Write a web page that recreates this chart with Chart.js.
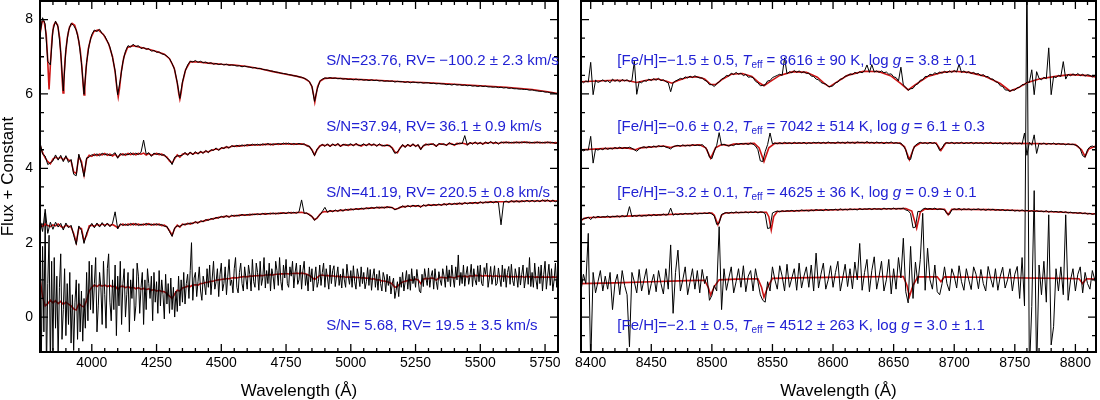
<!DOCTYPE html>
<html>
<head>
<meta charset="utf-8">
<script src="https://cdn.jsdelivr.net/npm/chart.js@4.4.0/dist/chart.umd.min.js"></script>
<style>
  body { margin: 0; background: #fff; }
  #wrap { position: relative; width: 1100px; height: 400px; }
  canvas { position: absolute; top: 0; }
  #left { left: 0; }
  #right { left: 560px; }
</style>
</head>
<body>
<div id="wrap">
  <canvas id="left" width="560" height="400"></canvas>
  <canvas id="right" width="540" height="400"></canvas>
</div>
<script>
// ---------------------- DATA ----------------------
// axis ticks
const leftXTicks = [4000, 4250, 4500, 4750, 5000, 5250, 5500, 5750];
const rightXTicks = [8400, 8450, 8500, 8550, 8600, 8650, 8700, 8750, 8800];
const yTicks = [0, 2, 4, 6, 8];

// blue labels
const leftNotes = [
  "S/N=23.76, RV= \u2212100.2 \u00b1 2.3 km/s",
  "S/N=37.94, RV= 36.1 \u00b1 0.9 km/s",
  "S/N=41.19, RV= 220.5 \u00b1 0.8 km/s",
  "S/N= 5.68, RV= 19.5 \u00b1 3.5 km/s",
];
const feh = ["\u22121.5 \u00b1 0.5", "\u22120.6 \u00b1 0.2", "\u22123.2 \u00b1 0.1", "\u22122.1 \u00b1 0.5"];
const teff = ["8616 \u00b1 90", "7042 \u00b1 514", "4625 \u00b1 36", "4512 \u00b1 263"];
const logg = ["3.8 \u00b1 0.1", "6.1 \u00b1 0.3", "0.9 \u00b1 0.1", "3.0 \u00b1 1.1"];

// left panel, observed spectra sampled every 10 A from 3800 A (s4 every 5 A)
const s1Flux = [
  7.62, 8.05, 7.88, 6.88, 6.78, 7.72, 7.96, 7.8, 7.12, 6.08,
  7.2, 7.7, 7.9, 7.84, 7.72, 7.42, 6.84, 5.99, 6.85, 7.32,
  7.6, 7.72, 7.68, 7.74, 7.62, 7.56, 7.42, 7.26, 6.98, 6.62,
  5.98, 6.38, 6.86, 7.15, 7.3, 7.26, 7.34, 7.27, 7.3, 7.22,
  7.25, 7.2, 7.22, 7.15, 7.17, 7.12, 7.13, 7.08, 7.06, 7.02,
  6.95, 6.82, 6.65, 6.3, 5.88, 6.32, 6.6, 6.78, 6.88, 6.86,
  6.9, 6.85, 6.88, 6.84, 6.86, 6.82, 6.84, 6.8, 6.82, 6.79,
  6.81, 6.78, 6.8, 6.77, 6.78, 6.77, 6.75, 6.76, 6.73, 6.75,
  6.73, 6.72, 6.7, 6.71, 6.68, 6.69, 6.66, 6.65, 6.64, 6.62,
  6.61, 6.59, 6.58, 6.56, 6.55, 6.54, 6.52, 6.51, 6.49, 6.48,
  6.46, 6.45, 6.42, 6.39, 6.33, 6.2, 5.8, 6.12, 6.33, 6.4,
  6.43, 6.42, 6.44, 6.42, 6.43, 6.41, 6.42, 6.4, 6.41, 6.39,
  6.4, 6.38, 6.4, 6.38, 6.39, 6.37, 6.38, 6.36, 6.38, 6.36,
  6.37, 6.35, 6.36, 6.34, 6.35, 6.34, 6.35, 6.32, 6.34, 6.33,
  6.33, 6.31, 6.33, 6.3, 6.32, 6.31, 6.3, 6.31, 6.29, 6.3,
  6.3, 6.28, 6.29, 6.27, 6.28, 6.27, 6.27, 6.25, 6.26, 6.24,
  6.26, 6.24, 6.25, 6.23, 6.24, 6.22, 6.23, 6.21, 6.22, 6.2,
  6.22, 6.2, 6.21, 6.19, 6.19, 6.18, 6.19, 6.17, 6.18, 6.16,
  6.17, 6.15, 6.16, 6.14, 6.14, 6.13, 6.13, 6.12, 6.12, 6.1,
  6.11, 6.09, 6.08, 6.07, 6.07, 6.05, 6.05, 6.03, 6.03, 6.01,
  6.0,
];
const s1ModelWave = [
  3800, 3808, 3816, 3824, 3829, 3835, 3841, 3847, 3853, 3860, 3868, 3876, 3882, 3886, 3889,
  3892, 3897, 3905, 3914, 3924, 3934, 3945, 3955, 3962, 3967, 3970, 3973, 3978, 3986, 3996,
  4008, 4025, 4045, 4065, 4080, 4090, 4097, 4102, 4107, 4114, 4124, 4138, 4160, 4190, 4220,
  4250, 4280, 4300, 4318, 4330, 4336, 4340, 4344, 4350, 4362, 4380, 4410, 4450, 4500, 4550,
  4600, 4650, 4700, 4750, 4790, 4820, 4840, 4850, 4856, 4861, 4866, 4872, 4882, 4900, 4930,
  5000, 5100, 5200, 5300, 5400, 5500, 5600, 5700, 5760, 5800,
];
const s1ModelFlux = [
  7.6, 7.95, 7.95, 7.6, 7.0, 6.12, 6.9, 7.55, 7.85, 7.93, 7.85, 7.5, 6.9, 6.35, 6.03,
  6.35, 6.95, 7.5, 7.8, 7.9, 7.85, 7.6, 7.2, 6.7, 6.2, 5.97, 6.2, 6.7, 7.2, 7.5,
  7.68, 7.72, 7.6, 7.35, 7.0, 6.6, 6.15, 5.92, 6.15, 6.6, 7.0, 7.25, 7.3, 7.25, 7.2,
  7.14, 7.07, 6.95, 6.7, 6.3, 6.0, 5.86, 6.0, 6.3, 6.65, 6.87, 6.86, 6.83, 6.8, 6.78,
  6.74, 6.68, 6.6, 6.53, 6.48, 6.42, 6.33, 6.2, 5.98, 5.78, 5.98, 6.2, 6.35, 6.42, 6.43,
  6.4, 6.37, 6.33, 6.3, 6.26, 6.22, 6.18, 6.12, 6.06, 6.01,
];

const s2Flux = [
  4.7, 4.38, 4.33, 4.1, 4.15, 4.2, 4.36, 4.22, 4.35, 4.18,
  4.34, 4.16, 4.24, 3.84, 3.8, 4.38, 4.12, 3.78, 4.28, 4.3,
  4.37, 4.34, 4.39, 4.33, 4.41, 4.36, 4.39, 4.34, 4.37, 4.42,
  4.27, 4.4, 4.35, 4.39, 4.36, 4.42, 4.36, 4.41, 4.37, 4.43,
  4.76, 4.38, 4.42, 4.32, 4.41, 4.37, 4.4, 4.35, 4.37, 4.27,
  4.23, 4.1, 4.3, 4.33, 4.34, 4.35, 4.43, 4.35, 4.44, 4.36,
  4.45, 4.38, 4.46, 4.4, 4.48, 4.42, 4.5, 4.48, 4.55, 4.48,
  4.56, 4.53, 4.59, 4.54, 4.61, 4.58, 4.62, 4.59, 4.63, 4.6,
  4.64, 4.61, 4.65, 4.62, 4.65, 4.62, 4.66, 4.63, 4.67, 4.63,
  4.66, 4.64, 4.67, 4.64, 4.68, 4.65, 4.68, 4.64, 4.67, 4.64,
  4.67, 4.64, 4.66, 4.6, 4.6, 4.48, 4.34, 4.52, 4.58, 4.65,
  4.59, 4.66, 4.58, 4.66, 4.6, 4.67, 4.58, 4.65, 4.62, 4.63,
  4.66, 4.6, 4.67, 4.61, 4.62, 4.66, 4.6, 4.67, 4.61, 4.66,
  4.59, 4.66, 4.6, 4.62, 4.61, 4.62, 4.53, 4.4, 4.44, 4.53,
  4.64, 4.56, 4.65, 4.58, 4.66, 4.58, 4.64, 4.5, 4.62, 4.63,
  4.65, 4.64, 4.66, 4.58, 4.67, 4.64, 4.66, 4.61, 4.69, 4.64,
  4.64, 4.65, 4.68, 4.66, 4.88, 4.62, 4.7, 4.65, 4.71, 4.65,
  4.7, 4.64, 4.71, 4.66, 4.72, 4.66, 4.71, 4.65, 4.71, 4.68,
  4.71, 4.68, 4.7, 4.68, 4.71, 4.68, 4.71, 4.69, 4.71, 4.68,
  4.7, 4.68, 4.71, 4.68, 4.7, 4.68, 4.71, 4.68, 4.7, 4.67,
  4.69,
];
const s2Model = [
  4.62, 4.42, 4.28, 4.18, 4.12, 4.25, 4.3, 4.26, 4.3, 4.22,
  4.3, 4.22, 4.2, 3.9, 3.86, 4.32, 4.18, 3.82, 4.25, 4.35,
  4.32, 4.38, 4.34, 4.38, 4.36, 4.4, 4.35, 4.38, 4.33, 4.38,
  4.3, 4.36, 4.39, 4.35, 4.4, 4.37, 4.4, 4.36, 4.4, 4.38,
  4.41, 4.36, 4.4, 4.35, 4.38, 4.4, 4.37, 4.38, 4.34, 4.3,
  4.2, 4.14, 4.26, 4.36, 4.3, 4.38, 4.4, 4.37, 4.42, 4.38,
  4.42, 4.4, 4.44, 4.42, 4.46, 4.44, 4.48, 4.5, 4.52, 4.5,
  4.54, 4.55, 4.57, 4.56, 4.59, 4.6, 4.59, 4.61, 4.6, 4.62,
  4.61, 4.63, 4.62, 4.64, 4.62, 4.64, 4.63, 4.65, 4.64, 4.65,
  4.63, 4.66, 4.64, 4.66, 4.65, 4.67, 4.65, 4.66, 4.64, 4.66,
  4.65, 4.66, 4.64, 4.62, 4.58, 4.5, 4.36, 4.5, 4.6, 4.63,
  4.61, 4.64, 4.6, 4.64, 4.62, 4.65, 4.6, 4.63, 4.64, 4.61,
  4.64, 4.62, 4.65, 4.63, 4.6, 4.64, 4.62, 4.65, 4.63, 4.64,
  4.61, 4.64, 4.62, 4.6, 4.63, 4.6, 4.55, 4.44, 4.42, 4.55,
  4.62, 4.58, 4.63, 4.6, 4.64, 4.6, 4.62, 4.52, 4.6, 4.65,
  4.63, 4.66, 4.64, 4.6, 4.65, 4.66, 4.64, 4.63, 4.67, 4.66,
  4.62, 4.67, 4.66, 4.68, 4.66, 4.64, 4.68, 4.67, 4.69, 4.67,
  4.68, 4.66, 4.69, 4.68, 4.7, 4.68, 4.69, 4.67, 4.69, 4.7,
  4.69, 4.7, 4.68, 4.7, 4.69, 4.7, 4.69, 4.71, 4.69, 4.7,
  4.68, 4.7, 4.69, 4.7, 4.68, 4.7, 4.69, 4.7, 4.68, 4.69,
  4.68,
];

const s3Flux = [
  2.62, 2.3, 2.9, 2.25, 2.55, 2.36, 2.55, 2.42, 2.52, 2.34,
  2.53, 2.4, 2.47, 2.2, 1.95, 2.45, 2.33, 1.98, 2.26, 2.4,
  2.52, 2.4, 2.53, 2.42, 2.54, 2.43, 2.53, 2.43, 2.52, 2.83,
  2.37, 2.51, 2.46, 2.5, 2.46, 2.52, 2.47, 2.52, 2.46, 2.5,
  2.47, 2.52, 2.48, 2.5, 2.47, 2.51, 2.47, 2.49, 2.44, 2.44,
  2.3, 2.17, 2.4, 2.45, 2.44, 2.48, 2.5, 2.5, 2.53, 2.51,
  2.57, 2.52, 2.59, 2.56, 2.62, 2.6, 2.65, 2.63, 2.68, 2.66,
  2.71, 2.68, 2.73, 2.68, 2.74, 2.71, 2.74, 2.72, 2.76, 2.73,
  2.76, 2.74, 2.77, 2.75, 2.78, 2.75, 2.79, 2.76, 2.79, 2.77,
  2.8, 2.77, 2.8, 2.78, 2.81, 2.78, 2.82, 2.79, 2.82, 2.79,
  2.83, 3.15, 2.79, 2.8, 2.74, 2.71, 2.6, 2.68, 2.74, 2.84,
  2.95, 2.82, 2.87, 2.83, 2.88, 2.84, 2.89, 2.85, 2.9, 2.87,
  2.91, 2.88, 2.92, 2.89, 2.93, 2.9, 2.94, 2.91, 2.95, 2.92,
  2.96, 2.93, 2.96, 2.93, 2.97, 2.94, 2.95, 2.88, 2.92, 2.94,
  2.99, 2.95, 3.0, 2.96, 3.01, 2.97, 3.01, 2.95, 3.02, 2.98,
  3.03, 2.99, 3.03, 3.0, 3.04, 3.0, 3.05, 3.01, 3.06, 3.02,
  3.06, 3.03, 3.07, 3.03, 3.08, 3.04, 3.08, 3.05, 3.09, 3.05,
  3.1, 3.06, 3.1, 3.07, 3.11, 3.07, 3.11, 3.08, 2.48, 3.09,
  3.12, 3.08, 3.13, 3.09, 3.13, 3.09, 3.13, 3.1, 3.14, 3.1,
  3.14, 3.1, 3.14, 3.1, 3.15, 3.11, 3.15, 3.1, 3.14, 3.1,
  3.13,
];
const s3Model = [
  2.5, 2.44, 2.5, 2.46, 2.43, 2.48, 2.45, 2.5, 2.44, 2.4,
  2.47, 2.44, 2.42, 2.25, 2.0, 2.4, 2.38, 2.05, 2.2, 2.45,
  2.47, 2.44, 2.49, 2.46, 2.5, 2.47, 2.5, 2.46, 2.49, 2.45,
  2.4, 2.48, 2.5, 2.47, 2.5, 2.48, 2.51, 2.48, 2.5, 2.47,
  2.5, 2.48, 2.51, 2.47, 2.5, 2.48, 2.5, 2.46, 2.47, 2.42,
  2.32, 2.2, 2.38, 2.47, 2.42, 2.5, 2.48, 2.52, 2.5, 2.53,
  2.55, 2.54, 2.57, 2.58, 2.6, 2.62, 2.63, 2.65, 2.66, 2.68,
  2.69, 2.7, 2.71, 2.7, 2.72, 2.73, 2.72, 2.74, 2.74, 2.75,
  2.74, 2.76, 2.75, 2.77, 2.76, 2.77, 2.77, 2.78, 2.77, 2.79,
  2.78, 2.79, 2.78, 2.8, 2.79, 2.8, 2.8, 2.81, 2.8, 2.81,
  2.81, 2.82, 2.8, 2.79, 2.76, 2.7, 2.62, 2.66, 2.76, 2.82,
  2.84, 2.83, 2.85, 2.85, 2.86, 2.86, 2.87, 2.87, 2.88, 2.89,
  2.89, 2.9, 2.9, 2.91, 2.91, 2.92, 2.92, 2.93, 2.93, 2.94,
  2.94, 2.95, 2.94, 2.95, 2.95, 2.96, 2.94, 2.9, 2.91, 2.95,
  2.97, 2.97, 2.98, 2.98, 2.99, 2.99, 2.99, 2.97, 3.0, 3.0,
  3.01, 3.01, 3.01, 3.02, 3.02, 3.02, 3.03, 3.03, 3.04, 3.04,
  3.04, 3.05, 3.05, 3.05, 3.06, 3.06, 3.06, 3.07, 3.07, 3.07,
  3.08, 3.08, 3.08, 3.09, 3.09, 3.09, 3.09, 3.1, 3.1, 3.1,
  3.1, 3.1, 3.11, 3.11, 3.11, 3.11, 3.11, 3.12, 3.12, 3.12,
  3.12, 3.12, 3.12, 3.12, 3.13, 3.13, 3.13, 3.12, 3.13, 3.12,
  3.12,
];

const s4Flux = [
  2.6, -1.2, 1.9, -0.4, 2.8, -1.5, 0.9, 2.2, -1.4, 1.5,
  -0.9, 1.6, -0.3, 1.1, -1.1, 0.8, 1.7, -0.6, 0.2, 1.3,
  -0.5, 0.9, -0.2, 1.2, -0.7, 0.6, -0.9, 0.4, 1.0, -0.6,
  0.9, -0.4, 0.7, -0.65, 0.5, -0.3, 1.2, -0.1, 1.5, 0.2,
  1.4, 0.1, 0.9, 1.6, -0.4, 0.3, 1.2, 0.8, -0.2, 1.5,
  0.6, -0.3, 1.3, 1.7, 0.4, -0.1, 1.0, 0.2, 1.4, -0.5,
  1.1, 0.3, 1.5, -0.2, 0.9, 1.3, 0.0, 0.6, 1.2, -0.4,
  1.0, 0.5, 1.3, -0.1, 0.3, 1.45, 1.1, 0.1, 0.8, 1.2,
  -0.2, 1.0, 0.2, 1.3, 0.9, 0.5, 1.1, -0.1, 1.2, 0.4,
  0.95, 0.1, 1.25, 0.3, 1.0, 0.6, -0.05, 1.15, 0.35, 0.9,
  0.1, 1.05, 0.2, 0.8, 0.0, 0.7, 0.15, 1.1, 0.3, 1.0,
  0.4, 1.2, 0.35, 0.9, 1.15, 0.5, 1.25, 2.0, 0.45, 1.05,
  1.2, 0.55, 0.95, 1.35, 0.7, 0.45, 1.1, 0.9, 0.6, 1.3,
  0.8, 1.4, 0.6, 1.05, 1.5, 0.75, 0.95, 1.3, 0.55, 1.15,
  1.45, 0.7, 0.9, 1.35, 0.6, 1.1, 1.55, 0.85, 1.0, 0.65,
  1.3, 1.6, 0.8, 0.65, 1.2, 1.45, 0.9, 0.7, 1.35, 1.05,
  0.75, 1.4, 1.15, 0.7, 1.55, 0.95, 0.8, 1.45, 1.2, 0.72,
  1.5, 0.85, 1.05, 1.6, 0.78, 1.25, 0.9, 1.45, 0.7, 1.3,
  1.1, 0.75, 1.5, 1.25, 0.85, 1.6, 0.95, 0.72, 1.4, 1.05,
  1.55, 0.9, 0.8, 1.35, 1.1, 1.5, 0.78, 1.2, 1.45, 0.88,
  1.0, 1.4, 0.75, 1.25, 1.5, 0.85, 1.15, 0.7, 1.35, 0.95,
  1.3, 0.7, 1.05, 1.35, 0.8, 0.95, 1.4, 0.85, 1.2, 1.45,
  0.8, 1.3, 1.05, 0.75, 1.4, 0.9, 1.25, 1.38, 0.82, 1.1,
  1.35, 0.85, 1.15, 0.78, 1.3, 1.0, 0.8, 1.42, 1.1, 0.88,
  1.25, 0.8, 1.38, 0.95, 0.75, 1.3, 1.1, 0.82, 1.35, 0.9,
  1.2, 0.76, 0.95, 1.33, 0.85, 1.28, 0.72, 1.1, 1.3, 0.8,
  1.15, 0.72, 1.25, 0.9, 0.7, 1.2, 1.05, 0.68, 1.15, 0.85,
  1.1, 0.62, 0.9, 1.05, 0.5, 0.72, 0.95, 0.55, 1.08, 0.8,
  1.2, 0.7, 0.95, 1.25, 0.75, 1.15, 0.72, 1.3, 0.9, 1.1,
  0.8, 1.28, 1.0, 0.7, 0.65, 1.15, 0.82, 1.3, 1.05, 0.85,
  1.32, 0.8, 1.1, 1.25, 0.75, 1.3, 0.95, 0.74, 1.22, 1.0,
  0.85, 1.3, 1.1, 0.8, 1.38, 0.95, 1.27, 0.82, 1.4, 1.05,
  0.8, 1.35, 1.0, 1.67, 0.85, 1.2, 0.9, 1.4, 0.83, 1.15,
  1.36, 0.88, 1.1, 1.42, 0.82, 1.3, 1.0, 0.86, 1.38, 0.95,
  1.4, 0.9, 0.84, 1.33, 1.15, 1.45, 0.8, 1.05, 1.36, 0.88,
  1.1, 1.38, 0.85, 0.9, 1.32, 1.05, 0.82, 1.4, 0.95, 1.3,
  0.8, 1.2, 1.36, 0.88, 1.42, 0.98, 0.84, 1.3, 1.1, 0.8,
  1.34, 0.86, 1.15, 1.4, 0.78, 1.05, 1.33, 0.88, 1.6, 0.82,
  1.2, 0.8, 1.45, 1.0, 0.75, 1.35, 0.9, 1.4, 0.7, 1.15,
  1.5, 0.75, 1.1, 1.42, 0.85, 1.3, 0.7, 1.0, 1.45, 0.8,
  1.1,
];
const s4Model = [
  1.04, 0.55, 0.3, 0.36, 0.45, 0.38, 0.44, 0.36, 0.42, 0.34,
  0.4, 0.35, 0.3, 0.22, 0.19, 0.36, 0.3, 0.27, 0.45, 0.7,
  0.8, 0.86, 0.82, 0.87, 0.83, 0.86, 0.82, 0.85, 0.81, 0.84,
  0.74, 0.82, 0.83, 0.79, 0.82, 0.78, 0.8, 0.76, 0.79, 0.75,
  0.77, 0.74, 0.76, 0.72, 0.74, 0.7, 0.72, 0.69, 0.68, 0.64,
  0.56, 0.5, 0.62, 0.72, 0.7, 0.78, 0.8, 0.83, 0.82, 0.86,
  0.87, 0.86, 0.9, 0.91, 0.93, 0.94, 0.96, 0.97, 0.99, 1.0,
  1.01, 1.02, 1.03, 1.03, 1.05, 1.06, 1.05, 1.07, 1.08, 1.09,
  1.08, 1.1, 1.1, 1.11, 1.11, 1.12, 1.11, 1.13, 1.13, 1.14,
  1.13, 1.15, 1.15, 1.16, 1.16, 1.17, 1.16, 1.17, 1.17, 1.18,
  1.17, 1.18, 1.17, 1.15, 1.12, 1.07, 1.01, 1.06, 1.12, 1.13,
  1.11, 1.12, 1.1, 1.11, 1.09, 1.1, 1.08, 1.09, 1.07, 1.08,
  1.07, 1.08, 1.06, 1.07, 1.05, 1.06, 1.04, 1.05, 1.02, 1.03,
  1.0, 1.0, 0.97, 0.97, 0.95, 0.93, 0.89, 0.8, 0.82, 0.9,
  0.94, 0.96, 0.98, 1.0, 0.99, 1.02, 1.0, 0.9, 1.02, 1.04,
  1.03, 1.05, 1.04, 0.99, 1.06, 1.07, 1.06, 1.05, 1.08, 1.07,
  1.05, 1.09, 1.1, 1.09, 1.1, 1.08, 1.11, 1.1, 1.12, 1.11,
  1.12, 1.1, 1.12, 1.1, 1.11, 1.09, 1.11, 1.09, 1.1, 1.09,
  1.1, 1.08, 1.09, 1.08, 1.09, 1.08, 1.09, 1.07, 1.09, 1.08,
  1.09, 1.07, 1.08, 1.07, 1.08, 1.07, 1.08, 1.07, 1.08, 1.07,
  1.08,
];

// right panel, observed spectra sampled every 2 A from 8392 A
const r1Flux = [
  6.36, 6.3, 6.35, 6.32, 6.85, 5.98, 6.37, 6.31, 6.34, 6.38,
  6.33, 6.36, 6.3, 6.4, 6.34, 6.38, 6.32, 6.39, 6.35, 6.38,
  6.33, 6.36, 6.88, 5.99, 6.33, 6.3, 6.36, 6.34, 6.4, 6.36,
  6.41, 6.37, 6.42, 6.36, 6.38, 6.33, 6.3, 6.06, 6.3, 6.35,
  6.38, 6.42, 6.4, 6.46, 6.43, 6.48, 6.44, 6.49, 6.45, 6.43,
  6.43, 6.37, 6.34, 6.25, 6.25, 6.2, 6.28, 6.32, 6.4, 6.43,
  6.5, 6.48, 6.56, 6.52, 6.58, 6.53, 6.56, 6.49, 6.53, 6.45,
  6.46, 6.44, 6.34, 6.3, 6.22, 6.23, 6.25, 6.35, 6.36, 6.44,
  6.47, 6.5, 6.53, 6.5, 6.97, 6.54, 6.6, 6.57, 6.63, 6.58,
  6.62, 6.57, 6.6, 6.55, 6.56, 6.48, 6.47, 6.4, 6.38, 6.31,
  6.28, 6.27, 6.2, 6.2, 6.22, 6.3, 6.32, 6.4, 6.41, 6.48,
  6.49, 6.54, 6.52, 6.58, 6.55, 6.6, 6.57, 6.62, 6.78, 6.58,
  6.79, 6.59, 6.62, 6.58, 6.62, 6.57, 6.59, 6.53, 6.54, 6.46,
  6.44, 6.35, 6.72, 6.24, 6.18, 6.1, 6.14, 6.15, 6.24, 6.27,
  6.37, 6.38, 6.47, 6.47, 6.53, 6.51, 6.57, 6.54, 6.59, 6.56,
  6.61, 6.57, 6.62, 6.58, 6.63, 6.59, 6.8, 6.58, 6.62, 6.57,
  6.6, 6.55, 6.58, 6.53, 6.55, 6.49, 6.52, 6.46, 6.47, 6.4,
  6.4, 6.33, 6.31, 6.22, 6.2, 6.11, 6.1, 6.07, 6.11, 6.1,
  6.17, 6.18, 6.25, 6.25, 6.32, 6.31, 6.65, 5.98, 6.6, 6.42,
  6.38, 6.45, 6.41, 7.24, 5.98, 6.47, 6.44, 6.5, 6.47, 6.87,
  6.4, 6.53, 6.49, 6.54, 6.5, 6.55, 6.49, 6.53, 6.48, 6.52,
  6.5, 6.46, 6.49, 6.45,
];
const r1ModelWave = [
  8392, 8405, 8420, 8430, 8438, 8446, 8455, 8462, 8467, 8472, 8480, 8488, 8494, 8499, 8503,
  8508, 8516, 8525, 8533, 8539, 8543, 8548, 8556, 8567, 8578, 8587, 8593, 8597, 8602, 8612,
  8625, 8638, 8648, 8656, 8662, 8668, 8678, 8690, 8700, 8712, 8725, 8738, 8746, 8752, 8760,
  8770, 8785, 8796, 8808, 8817,
];
const r1ModelFlux = [
  6.33, 6.35, 6.37, 6.36, 6.31, 6.37, 6.4, 6.35, 6.29, 6.36, 6.45, 6.46, 6.4, 6.26, 6.25,
  6.38, 6.53, 6.55, 6.47, 6.3, 6.22, 6.33, 6.5, 6.6, 6.58, 6.45, 6.28, 6.19, 6.3, 6.5,
  6.61, 6.6, 6.48, 6.28, 6.11, 6.25, 6.47, 6.58, 6.61, 6.58, 6.48, 6.28, 6.08, 6.15, 6.3,
  6.4, 6.48, 6.52, 6.5, 6.46,
];

const r2Flux = [
  4.52, 4.47, 4.5, 4.49, 4.86, 4.14, 4.52, 4.49, 4.53, 4.5,
  4.55, 4.51, 4.54, 4.52, 4.56, 4.53, 4.57, 4.53, 4.56, 4.54,
  4.57, 4.54, 4.5, 4.46, 4.52, 4.56, 4.58, 4.55, 4.59, 4.56,
  4.6, 4.57, 4.61, 4.58, 4.6, 4.57, 4.55, 4.52, 4.58, 4.6,
  4.62, 4.59, 4.63, 4.6, 4.62, 4.6, 4.64, 4.61, 4.63, 4.61,
  4.64, 4.58, 4.5, 4.3, 4.26, 4.46, 4.62, 4.96, 4.62, 4.65,
  4.62, 4.6, 4.63, 4.61, 4.66, 4.64, 4.67, 4.65, 4.67, 4.64,
  4.68, 4.65, 4.6, 4.5, 4.2, 4.18, 4.45, 4.64, 4.95, 4.66,
  4.68, 4.66, 4.69, 4.66, 4.7, 4.67, 4.69, 4.66, 4.7, 4.67,
  4.69, 4.67, 4.7, 4.66, 4.69, 4.67, 4.7, 4.68, 4.7, 4.67,
  4.7, 4.67, 4.71, 4.68, 4.69, 4.67, 4.71, 4.68, 4.7, 4.67,
  4.71, 4.68, 4.7, 4.67, 4.71, 4.69, 4.7, 4.68, 4.72, 4.68,
  4.7, 4.67, 4.71, 4.68, 4.7, 4.66, 4.7, 4.68, 4.71, 4.67,
  4.69, 4.67, 4.68, 4.6, 4.5, 4.25, 4.24, 4.5, 4.62, 4.67,
  4.7, 4.67, 4.69, 4.66, 4.7, 4.67, 4.69, 4.62, 4.48, 4.55,
  4.66, 4.69, 4.67, 4.7, 4.66, 4.69, 4.67, 4.7, 4.66, 4.69,
  4.67, 4.7, 4.66, 4.69, 4.67, 4.69, 4.66, 4.69, 4.67, 4.7,
  4.66, 4.68, 4.66, 4.69, 4.65, 4.68, 4.66, 4.69, 4.65, 4.68,
  4.66, 4.68, 4.65, 4.95, 4.35, 4.7, 4.62, 4.9, 4.4, 4.67,
  4.65, 4.68, 4.64, 4.67, 4.65, 4.68, 4.64, 4.67, 4.65, 4.66,
  4.63, 4.66, 4.64, 4.65, 4.62, 4.6, 4.52, 4.34, 4.3, 4.5,
  4.58, 4.6, 4.57, 4.61,
];
const r2ModelWave = [
  8392, 8410, 8430, 8437, 8441, 8460, 8466, 8470, 8490, 8495, 8499, 8503, 8508, 8514, 8518,
  8535, 8539, 8543, 8547, 8552, 8580, 8620, 8655, 8659, 8663, 8667, 8672, 8685, 8689, 8693,
  8720, 8750, 8780, 8800, 8805, 8808, 8811, 8817,
];
const r2ModelFlux = [
  4.5, 4.53, 4.55, 4.5, 4.55, 4.6, 4.56, 4.6, 4.63, 4.55, 4.27, 4.55, 4.64, 4.61, 4.65,
  4.67, 4.55, 4.18, 4.55, 4.67, 4.68, 4.69, 4.68, 4.58, 4.23, 4.58, 4.68, 4.68, 4.48, 4.68,
  4.68, 4.67, 4.66, 4.64, 4.5, 4.32, 4.52, 4.6,
];

const r3Flux = [
  2.58, 2.66, 2.65, 2.69, 2.62, 2.7, 2.67, 2.71, 2.68, 2.7,
  2.69, 2.72, 2.68, 2.71, 2.7, 2.72, 2.69, 2.73, 2.7, 2.72,
  2.97, 2.7, 2.73, 2.71, 2.74, 2.71, 2.73, 2.72, 2.75, 2.72,
  2.76, 2.73, 2.75, 2.74, 2.77, 2.74, 2.76, 2.93, 2.74, 2.77,
  2.75, 2.78, 2.76, 2.79, 2.77, 2.78, 2.76, 2.8, 2.77, 2.79,
  2.78, 2.8, 2.78, 2.81, 2.77, 2.72, 2.49, 2.52, 2.76, 2.79,
  2.81, 2.79, 2.82, 2.8, 2.83, 2.8, 2.82, 2.81, 2.83, 2.8,
  2.83, 2.81, 2.84, 2.8, 2.83, 2.82, 2.78, 2.38, 2.4, 2.8,
  2.83, 2.85, 2.83, 2.86, 2.84, 2.86, 2.85, 2.87, 2.84, 2.87,
  2.85, 2.88, 2.86, 2.87, 2.85, 2.88, 2.86, 2.89, 2.87, 2.88,
  2.86, 2.9, 2.87, 2.89, 2.88, 2.9, 2.87, 2.91, 2.88, 2.9,
  2.88, 2.91, 2.89, 2.9, 2.88, 2.92, 2.89, 2.91, 2.9, 2.92,
  2.89, 2.92, 2.9, 2.91, 2.89, 2.93, 2.9, 2.92, 2.9, 2.93,
  2.9, 2.92, 2.91, 2.93, 2.88, 2.86, 2.78, 2.4, 2.42, 2.84,
  2.84, 2.9, 2.93, 2.9, 2.92, 2.9, 2.93, 2.89, 2.91, 2.9,
  2.88, 2.78, 2.76, 2.88, 2.91, 2.89, 2.92, 2.88, 2.91, 2.89,
  2.91, 2.88, 2.9, 2.89, 2.91, 2.88, 2.9, 2.87, 2.9, 2.88,
  2.9, 2.87, 2.89, 2.87, 2.89, 2.86, 2.88, 2.86, 2.88, 2.85,
  2.87, 2.85, 2.88, 2.85, 2.87, 2.84, 2.86, 2.83, 2.86, 2.84,
  2.85, 2.83, 2.86, 2.82, 2.85, 2.83, 2.84, 2.82, 2.84, 2.81,
  2.83, 2.8, 2.82, 2.8, 2.81, 2.79, 2.81, 2.78, 2.8, 2.77,
  2.79, 2.76, 2.78, 2.76,
];
const r3ModelWave = [
  8392, 8396, 8420, 8450, 8480, 8500, 8502, 8505, 8508, 8511, 8530, 8545, 8547, 8549, 8551,
  8554, 8580, 8620, 8660, 8665, 8669, 8672, 8676, 8692, 8695, 8698, 8730, 8760, 8790, 8817,
];
const r3ModelFlux = [
  2.6, 2.67, 2.7, 2.74, 2.78, 2.8, 2.74, 2.48, 2.74, 2.8, 2.82, 2.82, 2.7, 2.34, 2.7,
  2.84, 2.87, 2.9, 2.92, 2.85, 2.39, 2.82, 2.91, 2.9, 2.75, 2.9, 2.89, 2.86, 2.82, 2.77,
];

const r4Flux = [
  0.7, 1.15, 0.9, 2.25, -1.3, 1.2, 0.65, 0.95, 1.25, 0.7,
  1.1, 0.75, 1.2, 0.2, 0.9, 1.15, 0.6, 1.25, 0.85, 0.6,
  -0.8, 1.2, 0.95, 0.65, 1.28, 0.7, 1.0, 1.3, 0.6, 0.9,
  1.15, 0.68, 1.25, 0.9, 0.62, 1.3, 0.75, 1.94, 0.1, 1.2,
  1.8, 0.7, 1.0, 1.35, 0.6, 0.95, 1.3, 0.75, 1.25, 0.65,
  1.28, 0.9, 1.1, 0.45, 0.58, 0.85, 0.7, 2.43, 0.2, 1.3,
  0.72, 1.05, 1.35, 0.65, 0.95, 1.3, 0.8, 1.38, 0.68, 1.1,
  1.25, 0.7, 1.3, 0.95, 0.6, 0.45, 0.4, 0.95, 0.7, 1.35,
  1.0, 0.75, 1.38, 1.1, 0.7, 1.42, 0.8, 1.05, 1.3, 0.72,
  1.45, 0.78, 1.1, 1.35, 0.8, 1.4, 0.7, 1.72, 0.78, 1.15,
  1.45, 0.75, 1.0, 1.38, 0.8, 1.2, 1.5, 0.7, 1.05, 1.42,
  0.82, 1.3, 0.76, 1.48, 1.0, 1.98, 0.72, 1.2, 1.55, 0.68,
  1.25, 1.62, 0.75, 1.1, 1.5, 0.7, 1.0, 1.55, 0.62, 1.3,
  0.75, 1.6, 1.05, 2.12, 0.68, 0.38, 1.9, 0.5, 1.48, 0.9,
  1.55, 2.79, 0.72, 1.85, 1.0, 0.75, 1.4, 0.68, 0.6, 0.9,
  1.35, 0.9, 0.7, 1.3, 1.1, 0.78, 1.38, 0.95, 0.72, 1.3,
  1.0, 0.74, 1.35, 1.15, 0.76, 1.28, 0.9, 0.7, 1.36, 1.05,
  0.8, 1.3, 0.72, 1.1, 1.34, 0.78, 1.0, 1.3, 0.7, 1.15,
  1.36, 0.5, 1.6, 0.3, 9.5, -1.5, 0.28, 3.4, -1.5, 1.4,
  0.6, 1.5, 0.4, 2.75, -0.75, -0.26, 1.3, 0.7, 1.35, 0.6,
  2.75, 0.45, 1.0, 1.3, 0.7, 1.15, 1.35, 0.65, 1.2, 0.9,
  0.75, 1.25, 1.0, 0.8,
];
const r4ModelWave = [
  8392, 8420, 8450, 8480, 8494, 8497, 8499, 8502, 8506, 8520, 8538, 8541, 8543, 8546, 8550,
  8580, 8620, 8658, 8661, 8663, 8666, 8670, 8686, 8689, 8692, 8720, 8760, 8790, 8803, 8806,
  8809, 8817,
];
const r4ModelFlux = [
  0.9, 0.92, 0.95, 0.98, 0.99, 0.8, 0.59, 0.82, 1.0, 1.02, 1.03, 0.8, 0.53, 0.8, 1.04,
  1.06, 1.08, 1.09, 0.85, 0.55, 0.85, 1.08, 1.08, 0.95, 1.08, 1.07, 1.05, 1.04, 1.03, 0.9,
  1.03, 1.02,
];

// ---------------------- HELPERS ----------------------
const FAMILY = "'Liberation Sans', Arial, Helvetica, sans-serif";
const BLUE = "#2222d4";
const RED = "#cc1414";

Chart.defaults.font.family = FAMILY;
Chart.defaults.color = "#000";

// uniform pixel grid of a spectrum
function grid(start, step, n) {
  return Array.from({ length: n }, (_, i) => start + i * step);
}
function pts(wave, flux) {
  const n = Math.min(wave.length, flux.length);
  const out = [];
  for (let i = 0; i < n; i++) out.push({ x: wave[i], y: flux[i] });
  return out;
}
function obs(flux, start, step) {
  return { data: pts(grid(start, step, flux.length), flux), borderColor: "#000", borderWidth: 1 };
}
function model(wave, flux) {
  return { data: pts(wave, flux), borderColor: RED, borderWidth: 1.6 };
}

// inward ticks on all four sides + frame
const framePlugin = {
  id: "frame",
  afterDatasetsDraw(chart) {
    const o = chart.options.plugins.frame;
    const { ctx, chartArea: a } = chart;
    const xs = chart.scales.x, ys = chart.scales.y;
    ctx.save();
    ctx.strokeStyle = "#000";
    ctx.lineWidth = 1.3;
    ctx.beginPath();
    for (let v = o.xFrom; v <= o.xTo; v += o.xStep) {
      const px = xs.getPixelForValue(v);
      if (px < a.left + 1 || px > a.right - 1) continue;
      const len = o.xMajor.includes(v) ? 8 : 4;
      ctx.moveTo(px, a.bottom); ctx.lineTo(px, a.bottom - len);
      ctx.moveTo(px, a.top); ctx.lineTo(px, a.top + len);
    }
    for (let v = -0.5; v <= 8.5; v += 0.5) {
      const py = ys.getPixelForValue(v);
      if (py < a.top + 1 || py > a.bottom - 1) continue;
      const len = yTicks.includes(v) ? 8 : 4;
      ctx.moveTo(a.left, py); ctx.lineTo(a.left + len, py);
      ctx.moveTo(a.right, py); ctx.lineTo(a.right - len, py);
    }
    ctx.stroke();
    ctx.lineWidth = 2;
    ctx.strokeRect(a.left, a.top, a.right - a.left, a.bottom - a.top);
    ctx.restore();
  },
};

// blue annotation lines, each a list of text pieces
const notesPlugin = {
  id: "notes",
  afterDatasetsDraw(chart) {
    const o = chart.options.plugins.notes;
    const { ctx } = chart;
    const xs = chart.scales.x, ys = chart.scales.y;
    ctx.save();
    ctx.fillStyle = BLUE;
    ctx.textBaseline = "alphabetic";
    o.lines.forEach((parts, i) => {
      let x = xs.getPixelForValue(o.x);
      const y = ys.getPixelForValue(o.y[i]);
      parts.forEach((p) => {
        ctx.font = p.font;
        ctx.fillText(p.text, x, y + (p.dy || 0));
        x += ctx.measureText(p.text).width;
      });
    });
    ctx.restore();
  },
};

const noteY = [6.79, 5.01, 3.23, -0.35];
const plainFont = `15px ${FAMILY}`;
const italicFont = `italic 15px ${FAMILY}`;
const subFont = `10px ${FAMILY}`;

// keep the plot box where it is: no extra room for label overhang
function noOverhang(s) {
  s.paddingTop = 0;
  s.paddingBottom = 0;
  s.paddingLeft = 0;
  s.paddingRight = 0;
}

function baseOptions(xMin, xMax, xTicks, xStep, yAxisWidth, showY, notes) {
  return {
    responsive: false,
    animation: false,
    events: [],
    layout: { padding: { top: 1, right: showY ? 2 : 4, left: 0, bottom: 0 } },
    elements: { point: { radius: 0 }, line: { tension: 0 } },
    datasets: { line: { parsing: false, normalized: true, fill: false } },
    plugins: {
      legend: { display: false },
      tooltip: { enabled: false },
      frame: { xFrom: xMin - (xMin % xStep), xTo: xMax, xStep: xStep, xMajor: xTicks },
      notes: notes,
    },
    scales: {
      x: {
        type: "linear",
        min: xMin,
        max: xMax,
        grid: { display: false, drawTicks: false },
        border: { display: false },
        afterBuildTicks: (s) => { s.ticks = xTicks.map((v) => ({ value: v })); },
        afterFit: (s) => { s.height = 48; noOverhang(s); },
        ticks: { font: { size: 14 }, padding: 3, maxRotation: 0, autoSkip: false, callback: (v) => String(v) },
        title: { display: true, text: "Wavelength (\u00c5)", font: { size: 17, lineHeight: 1 }, padding: { top: 0, bottom: 0 } },
      },
      y: {
        min: -0.94,
        max: 8.5,
        grid: { display: false, drawTicks: false },
        border: { display: false },
        afterBuildTicks: (s) => { s.ticks = yTicks.map((v) => ({ value: v })); },
        afterFit: (s) => { s.width = yAxisWidth; noOverhang(s); },
        ticks: { display: showY, font: { size: 14 }, padding: 7, callback: (v) => String(v) },
        title: { display: showY, text: "Flux + Constant", font: { size: 17, lineHeight: 1 }, padding: { top: 0, bottom: 0 } },
      },
    },
  };
}

// ---------------------- LEFT PANEL ----------------------
const leftDatasets = [
  obs(s1Flux, 3800, 10), model(s1ModelWave, s1ModelFlux),
  obs(s2Flux, 3800, 10), model(grid(3800, 10, s2Model.length), s2Model),
  obs(s3Flux, 3800, 10), model(grid(3800, 10, s3Model.length), s3Model),
  obs(s4Flux, 3800, 5), model(grid(3800, 10, s4Model.length), s4Model),
];
new Chart(document.getElementById("left"), {
  type: "line",
  data: { datasets: leftDatasets },
  options: baseOptions(3800, 5800, leftXTicks, 50, 40, true, {
    x: 4905,
    y: noteY,
    lines: leftNotes.map((t) => [{ text: t, font: plainFont }]),
  }),
  plugins: [framePlugin, notesPlugin],
});

// ---------------------- RIGHT PANEL ----------------------
const rightDatasets = [
  obs(r1Flux, 8392, 2), model(r1ModelWave, r1ModelFlux),
  obs(r2Flux, 8392, 2), model(r2ModelWave, r2ModelFlux),
  obs(r3Flux, 8392, 2), model(r3ModelWave, r3ModelFlux),
  obs(r4Flux, 8392, 2), model(r4ModelWave, r4ModelFlux),
];
new Chart(document.getElementById("right"), {
  type: "line",
  data: { datasets: rightDatasets },
  options: baseOptions(8392, 8817, rightXTicks, 10, 21, false, {
    x: 8422,
    y: noteY,
    lines: feh.map((f, i) => [
      { text: "[Fe/H]=" + f + ", ", font: plainFont },
      { text: "T", font: italicFont },
      { text: "eff", font: subFont, dy: 3 },
      { text: " = " + teff[i] + " K, log ", font: plainFont },
      { text: "g", font: italicFont },
      { text: " = " + logg[i], font: plainFont },
    ]),
  }),
  plugins: [framePlugin, notesPlugin],
});
</script>
</body>
</html>
